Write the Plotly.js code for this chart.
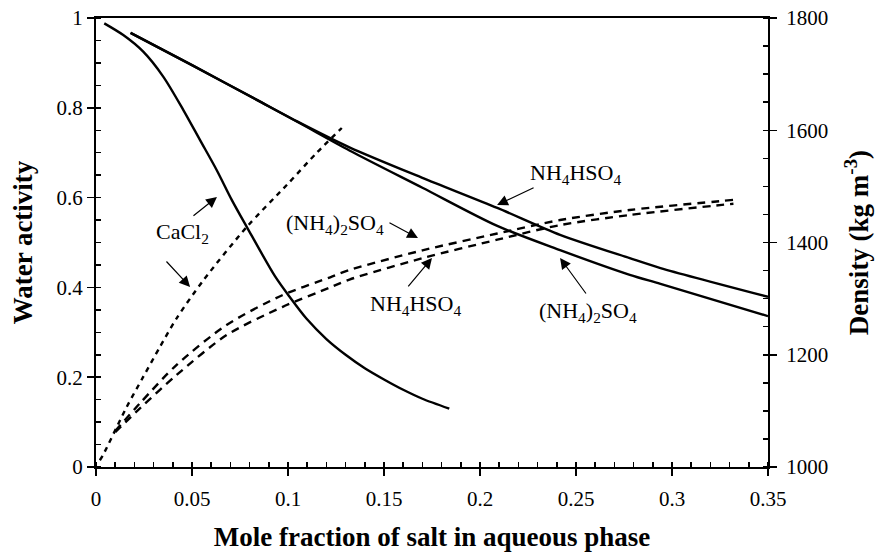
<!DOCTYPE html>
<html>
<head>
<meta charset="utf-8">
<script src="https://cdn.plot.ly/plotly-3.0.1.min.js"></script>
<style>
  html, body { margin: 0; padding: 0; background: #fff; }
  #chart { width: 875px; height: 552px; }
</style>
</head>
<body>
<div id="chart"></div>
<script>
// Water activity (left axis) of aqueous salt solutions
const xCaCl2Aw = [0.0043, 0.0142, 0.0246, 0.0351, 0.0455, 0.0542, 0.0629, 0.0707, 0.0785, 0.0932, 0.101, 0.1097, 0.120, 0.130, 0.140, 0.150, 0.160, 0.170, 0.184];
const awCaCl2  = [0.988, 0.962, 0.925, 0.869, 0.795, 0.728, 0.661, 0.595, 0.535, 0.425, 0.378, 0.330, 0.285, 0.250, 0.220, 0.195, 0.172, 0.152, 0.130];

const xAmmAw     = [0.018, 0.050, 0.084, 0.106, 0.132, 0.170, 0.209, 0.2417, 0.278, 0.294, 0.350];
const awNH4HSO4  = [0.967, 0.895, 0.817, 0.767, 0.712, 0.644, 0.577, 0.517, 0.465, 0.443, 0.379];
const awNH42SO4  = [0.967, 0.895, 0.817, 0.766, 0.705, 0.622, 0.537, 0.483, 0.428, 0.408, 0.336];

// Solution density (right axis), kg m-3
const xCaCl2Rho = [0.002, 0.0036, 0.016, 0.0245, 0.0333, 0.042, 0.056, 0.0786, 0.0995, 0.115, 0.128];
const rhoCaCl2  = [1012, 1021, 1107, 1160, 1214, 1265, 1333, 1428, 1503, 1560, 1604];

const xAmmRho      = [0.010, 0.023, 0.042, 0.068, 0.097, 0.122, 0.132, 0.170, 0.209, 0.2417, 0.278, 0.326, 0.332];
const rhoNH42SO4   = [1064, 1114, 1182, 1253, 1306, 1338, 1351, 1386, 1416, 1440, 1458, 1474, 1476];
const rhoNH4HSO4   = [1062, 1105, 1164, 1235, 1285, 1320, 1334, 1372, 1405, 1431, 1449, 1467, 1469];

const SERIF = 'Liberation Serif';
const BLACK = '#000';

const solid = { color: BLACK, width: 2.4, shape: 'spline', smoothing: 0.8 };
const dashCa = { color: BLACK, width: 2.4, dash: '5px,5px', shape: 'spline', smoothing: 0.8 };
const dashAm = { color: BLACK, width: 2.4, dash: '8px,6px', shape: 'spline', smoothing: 0.8 };

const traces = [
  { x: xCaCl2Aw, y: awCaCl2, mode: 'lines', line: solid, name: 'CaCl2 aw' },
  { x: xAmmAw, y: awNH4HSO4, mode: 'lines', line: solid, name: 'NH4HSO4 aw' },
  { x: xAmmAw, y: awNH42SO4, mode: 'lines', line: solid, name: '(NH4)2SO4 aw' },
  { x: xCaCl2Rho, y: rhoCaCl2, yaxis: 'y2', mode: 'lines', line: dashCa, name: 'CaCl2 density' },
  { x: xAmmRho, y: rhoNH42SO4, yaxis: 'y2', mode: 'lines', line: dashAm, name: '(NH4)2SO4 density' },
  { x: xAmmRho, y: rhoNH4HSO4, yaxis: 'y2', mode: 'lines', line: dashAm, name: 'NH4HSO4 density' }
];

const tickFont = { family: SERIF, size: 21, color: BLACK };
const titleFont = { family: SERIF, size: 27, color: BLACK, weight: 700 };
const labelFont = { family: SERIF, size: 22, color: BLACK };

// Label texts and pointer arrows
const labels = [
  { text: 'CaCl<sub>2</sub>', x: 0.0453, y: 0.5212 },
  { text: '(NH<sub>4</sub>)<sub>2</sub>SO<sub>4</sub>', x: 0.1245, y: 0.5412 },
  { text: 'NH<sub>4</sub>HSO<sub>4</sub>', x: 0.2500, y: 0.6526 },
  { text: 'NH<sub>4</sub>HSO<sub>4</sub>', x: 0.1667, y: 0.3608 },
  { text: '(NH<sub>4</sub>)<sub>2</sub>SO<sub>4</sub>', x: 0.2563, y: 0.3452 }
];
const arrows = [
  { x: 0.0630, y: 0.6013, yref: 'y',  ax: -25, ay: 20 },
  { x: 0.0490, y: 1320.7, yref: 'y2', ax: -25, ay: -27 },
  { x: 0.1677, y: 1408,   yref: 'y2', ax: -30, ay: -16 },
  { x: 0.2089, y: 0.5835, yref: 'y',  ax: 38,  ay: -18 },
  { x: 0.1750, y: 1372.4, yref: 'y2', ax: -25, ay: 30 },
  { x: 0.2417, y: 0.4655, yref: 'y',  ax: 27,  ay: 37 }
];

const annotations = labels.map(l => ({
  text: l.text, x: l.x, y: l.y, xref: 'x', yref: 'y',
  showarrow: false, font: labelFont, xanchor: 'center', yanchor: 'middle'
})).concat(arrows.map(a => ({
  text: '', x: a.x, y: a.y, xref: 'x', yref: a.yref, ax: a.ax, ay: a.ay,
  showarrow: true, arrowhead: 2, arrowsize: 1.8, arrowwidth: 1.2, arrowcolor: BLACK, standoff: 0
})));

const layout = {
  width: 875, height: 552,
  margin: { l: 96, r: 107, t: 18, b: 85, pad: 0 },
  paper_bgcolor: '#fff', plot_bgcolor: '#fff',
  showlegend: false,
  font: { family: SERIF, color: BLACK },
  xaxis: {
    range: [0, 0.35], dtick: 0.05, tick0: 0,
    showgrid: false, zeroline: false,
    showline: true, linecolor: BLACK, linewidth: 2, mirror: true,
    ticks: 'outside', ticklen: 7, tickwidth: 1.5, tickcolor: BLACK,
    ticklabelstandoff: 5,
    minor: { ticks: 'inside', ticklen: 5, tickwidth: 1.5, tickcolor: BLACK, dtick: 0.01 },
    tickfont: tickFont,
    title: { text: 'Mole fraction of salt in aqueous phase', font: titleFont, standoff: 20 }
  },
  xaxis2: {
    overlaying: 'x', anchor: 'y', range: [0, 0.35], dtick: 0.05, tick0: 0,
    showgrid: false, zeroline: false, showline: false, showticklabels: false,
    ticks: 'inside', ticklen: 7, tickwidth: 1.5, tickcolor: BLACK
  },
  yaxis: {
    range: [0, 1], dtick: 0.2, tick0: 0,
    showgrid: false, zeroline: false,
    showline: true, linecolor: BLACK, linewidth: 2,
    ticks: 'outside', ticklen: 7, tickwidth: 1.5, tickcolor: BLACK,
    minor: { ticks: 'inside', ticklen: 5, tickwidth: 1.5, tickcolor: BLACK, dtick: 0.05 },
    tickfont: tickFont,
    title: { text: 'Water activity', font: titleFont, standoff: 16 }
  },
  yaxis3: {
    overlaying: 'y', anchor: 'x', side: 'left', range: [0, 1], dtick: 0.2, tick0: 0,
    showgrid: false, zeroline: false, showline: false, showticklabels: false,
    ticks: 'inside', ticklen: 7, tickwidth: 1.5, tickcolor: BLACK
  },
  yaxis2: {
    overlaying: 'y', side: 'right', anchor: 'x', range: [1000, 1800], dtick: 200, tick0: 1000,
    showgrid: false, zeroline: false,
    showline: true, linecolor: BLACK, linewidth: 2,
    ticks: 'outside', ticklen: 7, tickwidth: 1.5, tickcolor: BLACK,
    ticklabelstandoff: 5,
    minor: { ticks: 'inside', ticklen: 5, tickwidth: 1.5, tickcolor: BLACK, dtick: 50 },
    tickfont: tickFont,
    title: { text: 'Density (kg m<sup>-3</sup>)', font: titleFont, standoff: 22 }
  },
  yaxis4: {
    overlaying: 'y', side: 'right', anchor: 'x', range: [1000, 1800], dtick: 200, tick0: 1000,
    showgrid: false, zeroline: false, showline: false, showticklabels: false,
    ticks: 'inside', ticklen: 7, tickwidth: 1.5, tickcolor: BLACK
  },
  annotations: annotations
};

Plotly.newPlot('chart', traces, layout, { staticPlot: true, displayModeBar: false });
</script>
</body>
</html>
